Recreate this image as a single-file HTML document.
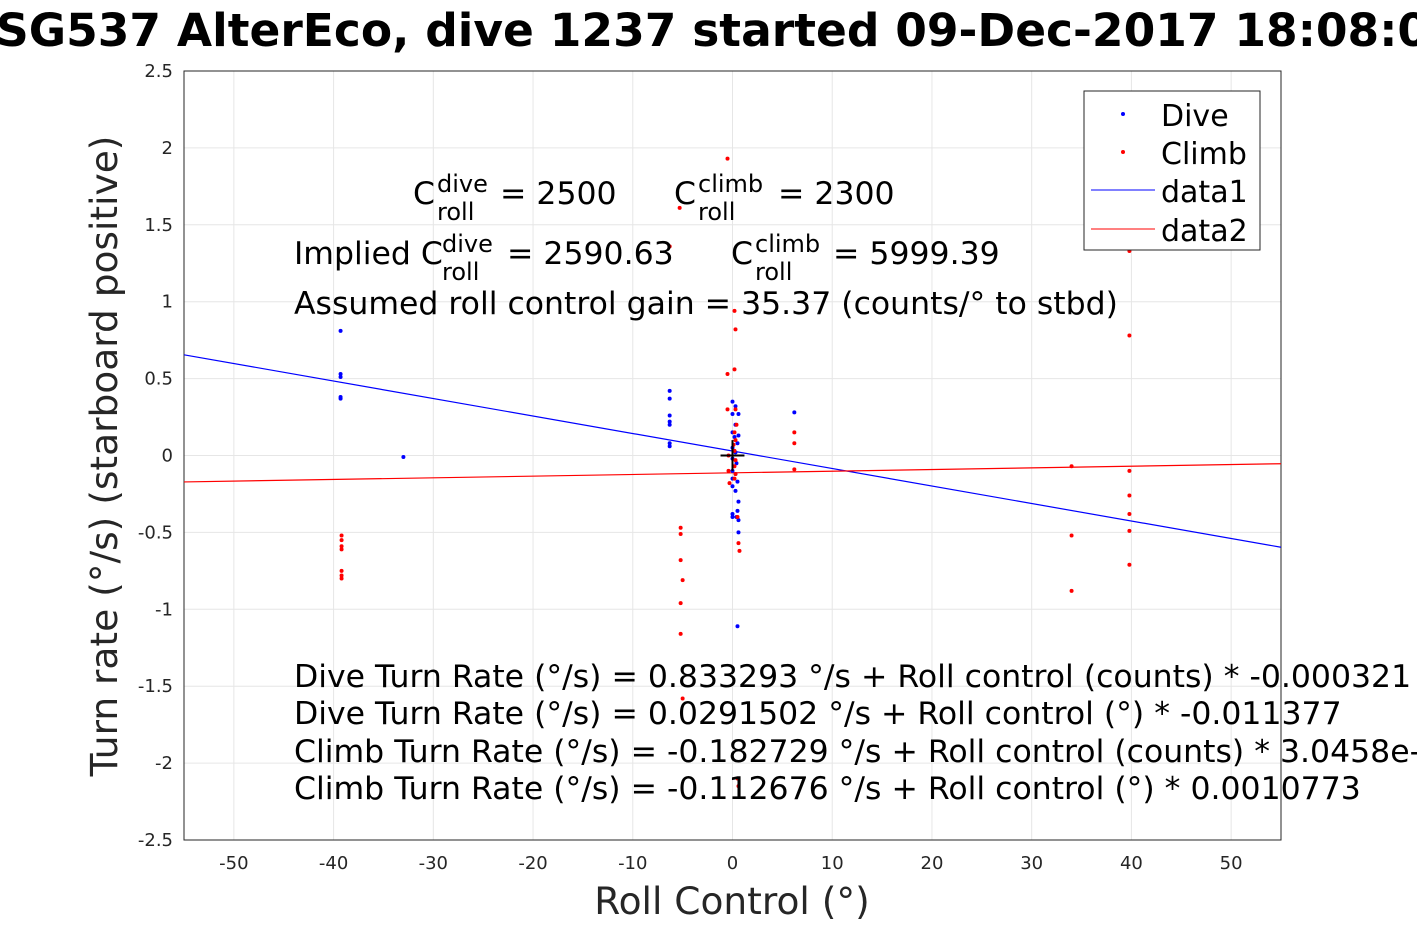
<!DOCTYPE html>
<html><head><meta charset="utf-8"><style>
body{margin:0;background:#fff;}
svg text{font-family:"DejaVu Sans","Liberation Sans",sans-serif;}
</style></head><body>
<svg id="chart" width="1417" height="945" xmlns="http://www.w3.org/2000/svg">
<rect width="1417" height="945" fill="#fff"/>
<text x="-4" y="46" font-size="45.5" font-weight="bold">SG537 AlterEco, dive 1237 started 09-Dec-2017 18:08:00</text>
<g id="grid"></g>
<g id="axes"></g>
<g id="plot"></g>
<text transform="translate(117,456) rotate(-90)" text-anchor="middle" font-size="37.5" fill="#262626">Turn rate (°/s) (starboard positive)</text>
<text x="732" y="914" text-anchor="middle" font-size="37.5" fill="#262626">Roll Control (°)</text>
<g font-size="31.5" fill="#000">
<text x="413" y="204">C<tspan font-size="24" x="437" dy="-12">dive</tspan><tspan font-size="24" x="437" dy="28">roll</tspan><tspan dy="-16" x="500">= 2500</tspan></text>
<text x="674" y="204">C<tspan font-size="24" x="698" dy="-12">climb</tspan><tspan font-size="24" x="698" dy="28">roll</tspan><tspan dy="-16" x="778">= 2300</tspan></text>
<text x="294" y="264">Implied C<tspan font-size="24" x="442" dy="-12">dive</tspan><tspan font-size="24" x="442" dy="28">roll</tspan><tspan dy="-16" x="507">= 2590.63</tspan></text>
<text x="731" y="264">C<tspan font-size="24" x="755" dy="-12">climb</tspan><tspan font-size="24" x="755" dy="28">roll</tspan><tspan dy="-16" x="833">= 5999.39</tspan></text>
<text x="294" y="314">Assumed roll control gain = 35.37 (counts/° to stbd)</text>
<text x="294" y="687">Dive Turn Rate (°/s) = 0.833293 °/s + Roll control (counts) * -0.000321</text>
<text x="294" y="724">Dive Turn Rate (°/s) = 0.0291502 °/s + Roll control (°) * -0.011377</text>
<text x="294" y="762">Climb Turn Rate (°/s) = -0.182729 °/s + Roll control (counts) * 3.0458e-05</text>
<text x="294" y="799">Climb Turn Rate (°/s) = -0.112676 °/s + Roll control (°) * 0.0010773</text>
</g>
<g>
<rect x="1084" y="91" width="176" height="159" fill="#fff" stroke="#262626" stroke-width="1"/>
<circle cx="1123" cy="114" r="2" fill="#0000ff"/>
<text x="1161" y="126" font-size="30">Dive</text>
<circle cx="1123" cy="152" r="2" fill="#ff0000"/>
<text x="1161" y="164" font-size="30">Climb</text>
<line x1="1091" y1="190" x2="1155" y2="190" stroke="#0000ff"/>
<text x="1161" y="202" font-size="30">data1</text>
<line x1="1091" y1="229" x2="1155" y2="229" stroke="#ff0000"/>
<text x="1161" y="241" font-size="30">data2</text>
</g>
</svg>
<script>
const xTicks=[-50,-40,-30,-20,-10,0,10,20,30,40,50];
const yTicks=[-2.5,-2,-1.5,-1,-0.5,0,0.5,1,1.5,2,2.5];
const diveX=[-39.3,-39.3,-39.3,-39.3,-39.3,-33,-6.3,-6.3,-6.3,-6.3,-6.3,-6.3,-6.3,6.2,0,0.3,0.6,0,0.3,0.6,0,0.2,0.5,0,0.3,0,0.4,0,0.3,0,0.5,0,0.3,0,0,0.5,0.6,0.4,0.6,0.5,0.6];
const diveY=[0.81,0.53,0.51,0.38,0.37,-0.01,0.42,0.37,0.26,0.22,0.2,0.08,0.06,0.28,0.35,0.32,0.27,0.27,0.2,0.13,0.15,0.12,0.08,0.05,0.02,-0.02,-0.05,-0.1,-0.12,-0.15,-0.17,-0.2,-0.23,-0.38,-0.4,-0.36,-0.42,-0.4,-0.5,-1.11,-0.3];
const climbX=[-39.2,-39.2,-39.2,-39.2,-39.2,-39.2,-39.2,-6.3,-5.3,-5.2,-5.2,-5.2,-5,-5.2,-5.2,-5,-0.5,0.2,0.3,0.2,-0.5,-0.5,0.3,0.4,0.2,0.3,0.1,0.2,-0.4,0.3,0.2,-0.4,0.3,0.2,-0.3,0.5,0.6,0.7,0.5,0.6,6.2,6.2,6.2,34,34,34,39.8,39.8,39.8,39.8,39.8,39.8,39.8];
const climbY=[-0.52,-0.55,-0.59,-0.61,-0.75,-0.78,-0.8,1.36,1.61,-0.47,-0.51,-0.68,-0.81,-0.96,-1.16,-1.58,1.93,0.94,0.82,0.56,0.53,0.3,0.3,0.2,0.15,0.1,0.07,0.03,0,-0.03,-0.07,-0.1,-0.12,-0.15,-0.18,-0.4,-0.57,-0.62,-2.1,-2.15,0.15,0.08,-0.09,-0.07,-0.52,-0.88,-0.1,-0.26,-0.38,-0.49,-0.71,0.78,1.33];
const lineX=[-55,55];
const diveFit=[0.0291502,-0.011377];
const climbFit=[-0.112676,0.0010773];
const L=184,R=1281,T=71,B=840;
const sx=v=>L+(v+55)/110*(R-L);
const sy=v=>B-(v+2.5)/5*(B-T);
const NS='http://www.w3.org/2000/svg';
function mk(tag,attrs,parent){const e=document.createElementNS(NS,tag);for(const k in attrs)e.setAttribute(k,attrs[k]);document.getElementById(parent).appendChild(e);return e;}
xTicks.forEach(t=>{
 const g=mk('line',{x1:sx(t),x2:sx(t),y1:T,y2:B,stroke:'#e6e6e6'},'grid');
 
 
 const tx=mk('text',{x:sx(t),y:B+29,'text-anchor':'middle','font-size':18,fill:'#262626'},'axes');
 tx.textContent=t;
 
 
});
yTicks.forEach(t=>{
 const g=mk('line',{x1:L,x2:R,y1:sy(t),y2:sy(t),stroke:'#e6e6e6'},'grid');
 
 
 const tx=mk('text',{x:L-11,y:sy(t)+6,'text-anchor':'end','font-size':18,fill:'#262626'},'axes');
 tx.textContent=t;
 
 
});
const box=mk('rect',{x:L,y:T,width:R-L,height:B-T,fill:'none',stroke:'#262626'},'axes');


function fit(c,col,name){
 const l=mk('line',{x1:sx(lineX[0]),y1:sy(c[0]+c[1]*lineX[0]),x2:sx(lineX[1]),y2:sy(c[0]+c[1]*lineX[1]),stroke:col,'stroke-width':1.2},'plot');
 
 
}
fit(diveFit,'#0000ff','dive-fit-line');
fit(climbFit,'#ff0000','climb-fit-line');
diveX.forEach((x,i)=>{
 const c=mk('circle',{cx:sx(x),cy:sy(diveY[i]),r:2,fill:'#0000ff'},'plot');
 
 
});
climbX.forEach((x,i)=>{
 const c=mk('circle',{cx:sx(x),cy:sy(climbY[i]),r:2,fill:'#ff0000'},'plot');
 
 
});
const p1=mk('line',{x1:sx(-1.2),x2:sx(1.2),y1:sy(0),y2:sy(0),stroke:'#000','stroke-width':2},'plot');


const p2=mk('line',{x1:sx(0),x2:sx(0),y1:sy(0.1),y2:sy(-0.1),stroke:'#000','stroke-width':2},'plot');


</script>
</body></html>
